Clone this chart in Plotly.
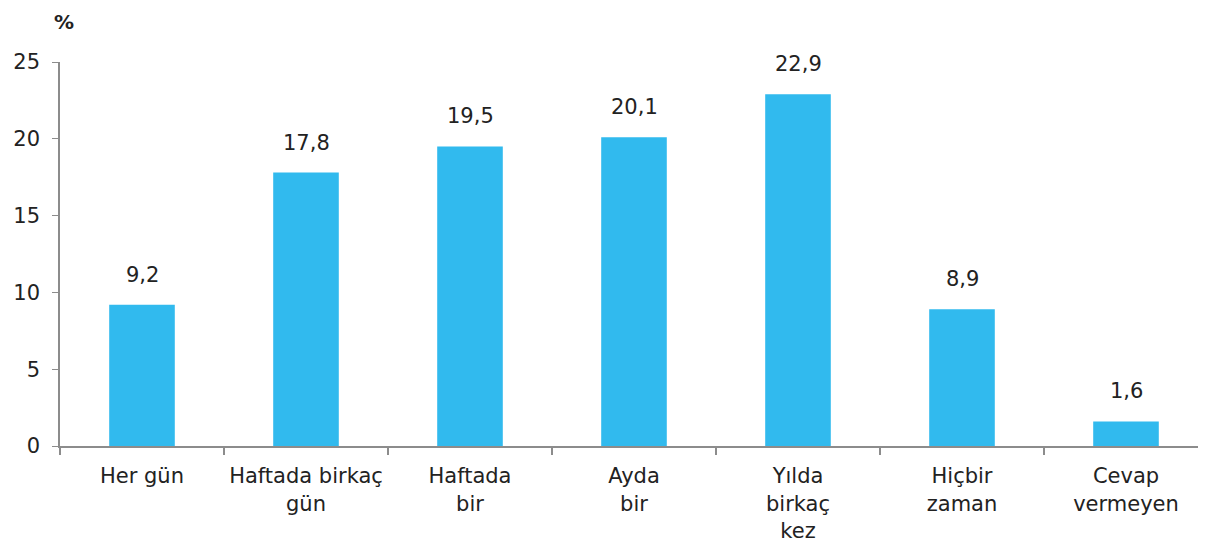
import plotly.graph_objects as go

categories = ["Her gün", "Haftada birkaç<br>gün", "Haftada<br>bir", "Ayda<br>bir",
              "Yılda<br>birkaç<br>kez", "Hiçbir<br>zaman", "Cevap<br>vermeyen"]
values = [9.2, 17.8, 19.5, 20.1, 22.9, 8.9, 1.6]
value_labels = ["9,2", "17,8", "19,5", "20,1", "22,9", "8,9", "1,6"]
y_ticks = [0, 5, 10, 15, 20, 25]

FONT = "DejaVu Sans"
SIZE = 21
fig = go.Figure(go.Bar(
    x=categories, y=values,
    marker=dict(color="#31BAEE", line=dict(width=0)),
    width=0.4,
))
annotations = [dict(text="<b>%</b>", x=0, xref="paper", y=1, yref="paper",
                    yshift=40, xshift=-8, showarrow=False, xanchor="left",
                    yanchor="middle", font=dict(family=FONT, size=20, color="#222"))]
for c, v, t in zip(categories, values, value_labels):
    annotations.append(dict(text=t, x=c, y=v, xref="x", yref="y", showarrow=False,
                            yanchor="middle", yshift=30,
                            font=dict(family=FONT, size=SIZE, color="#222")))
fig.update_layout(
    width=1206, height=552,
    margin=dict(l=52, r=6, t=54, b=114),
    plot_bgcolor="white", paper_bgcolor="white",
    showlegend=False,
    font=dict(family=FONT, size=SIZE, color="#222"),
    annotations=annotations,
)
fig.update_xaxes(
    showline=True, linecolor="#8c8c8c", linewidth=2, automargin=False,
    ticks="outside", tickson="boundaries", ticklen=7, tickcolor="#8c8c8c",
    tickwidth=2, showgrid=False, ticklabelstandoff=10,
)
fig.update_yaxes(
    range=[0, 25], tickvals=y_ticks, showline=True, linecolor="#8c8c8c", linewidth=1.5,
    ticks="outside", ticklen=6, tickcolor="#8c8c8c", showgrid=False, zeroline=False,
    ticklabelstandoff=8, automargin=False,
)
fig.write_html("out.html")
